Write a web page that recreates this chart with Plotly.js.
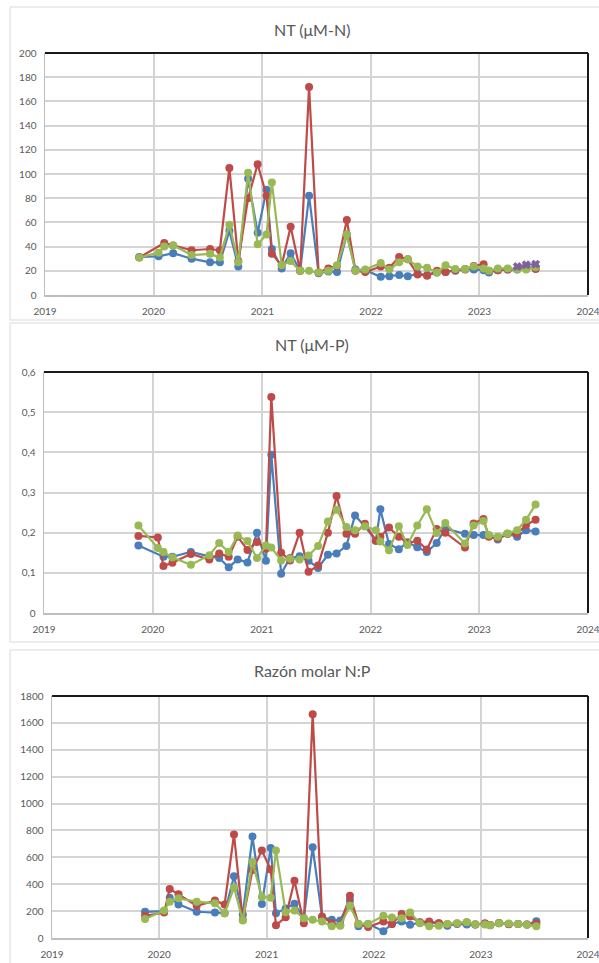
<!DOCTYPE html>
<html>
<head>
<meta charset="utf-8">
<script src="https://cdn.plot.ly/plotly-3.0.1.min.js"></script>
<style>
html,body{margin:0;padding:0;background:#fff;}
#chart{width:599px;height:963px;}
</style>
</head>
<body>
<div id="chart"></div>
<script>
// ---- sampling dates (shared by all panels) ----
const dates = [
 '2019-11-14','2020-01-18','2020-02-06','2020-03-07','2020-05-08','2020-07-09','2020-08-11',
 '2020-09-12','2020-10-12','2020-11-14','2020-12-16','2021-01-15','2021-02-02','2021-03-07',
 '2021-04-06','2021-05-08','2021-06-07','2021-07-09','2021-08-11','2021-09-09','2021-10-12',
 '2021-11-10','2021-12-13','2022-01-19','2022-02-03','2022-03-04','2022-04-06','2022-05-05',
 '2022-06-07','2022-07-09','2022-08-11','2022-09-09','2022-10-12','2022-11-14','2022-12-13',
 '2023-01-15','2023-02-02','2023-03-04','2023-04-06','2023-05-08','2023-06-07','2023-07-09'
];

// ---- Panel 1: NT (µM-N) ----
const ntN_blue  = [31.5,32,null,34.5,30,27,27,53,23.5,96,51.5,87,38,22,34.5,20,82,18,19.5,19,50,21,20.5,null,15,15.5,16.5,15.5,17.5,16.5,18.5,19,20,21.5,21,20.5,18.5,20.5,21,21,22,23];
const ntN_red   = [31,null,43,41,37,38,37,105,28,80,108,82,34,24.5,56.5,20,172,18.5,22,24,62,20,19,null,23.5,22.5,31.5,29.5,17,16,20,19,20.5,21,24,25.5,20,20.5,21,21.5,23,21.5];
const ntN_green = [31,35,40,41,33,34,31,58,27,101,42,50,93,24.5,28,20,20,18.5,20,24.5,50,20,21,null,26.5,21,27,29.5,23.5,22.5,18.5,24.5,21.5,21.5,23.5,22,20,22,22,21,21,23];
const ntN_purple= [null,null,null,null,null,null,null,null,null,null,null,null,null,null,null,null,null,null,null,null,null,null,null,null,null,null,null,null,null,null,null,null,null,null,null,null,null,null,null,23.5,25,25.5];

// ---- Panel 2: NT (µM-P) ----
const ntP_blue  = [0.168,null,0.14,0.14,0.152,0.141,0.137,0.114,0.133,0.126,0.2,0.13,0.394,0.098,0.137,0.141,0.13,0.112,0.145,0.148,0.167,0.243,0.216,0.18,0.258,0.172,0.159,0.176,0.164,0.152,0.174,0.21,null,0.197,0.194,0.194,0.193,0.183,0.197,0.19,0.206,0.203];
const ntP_red   = [0.192,0.188,0.117,0.125,0.147,0.133,0.148,0.14,0.19,0.157,0.177,0.16,0.538,0.15,0.131,0.2,0.103,0.118,0.2,0.291,0.197,0.197,0.222,0.18,0.19,0.213,0.19,0.174,0.18,0.158,0.209,0.2,null,0.163,0.223,0.234,0.19,0.186,0.197,0.197,0.219,0.232];
const ntP_green = [0.218,0.162,0.152,0.138,0.12,0.144,0.174,0.152,0.193,0.179,0.137,0.168,0.163,0.131,0.135,0.133,0.143,0.167,0.228,0.257,0.214,0.206,0.216,0.206,0.178,0.156,0.216,0.169,0.218,0.258,0.199,0.224,null,0.173,0.218,0.229,0.194,0.19,0.198,0.206,0.232,0.27];

// ---- Panel 3: Razón molar N:P ----
const np_blue  = [195,200,300,250,195,190,185,460,175,755,253,670,185,220,255,147,675,155,135,130,282,88,105,null,50,105,123,98,115,112,110,92,105,100,100,105,97,110,105,105,100,125];
const np_red   = [165,190,365,325,240,278,250,770,135,505,650,510,95,155,425,110,1665,160,110,95,315,105,82,null,123,105,178,160,118,123,110,103,108,118,100,110,95,112,103,105,100,108];
const np_green = [142,205,270,295,270,258,185,375,130,565,305,300,650,192,205,147,135,123,88,92,240,105,105,null,165,152,147,190,110,88,92,105,110,118,103,100,95,110,107,105,98,88];

// ---- labels ----
const titles = ['NT (μM-N)', 'NT (μM-P)', 'Razón molar N:P'];
const yearTicks = ['2019-01-01','2020-01-01','2021-01-01','2022-01-01','2023-01-01','2024-01-01'];
const yearLabels = ['2019','2020','2021','2022','2023','2024'];

const colors = {blue:'#4A7EBB', red:'#BE4B48', green:'#98B954', purple:'#7D60A0'};
const W = 599, H = 963;

function series(y, color, xa, ya, symbol){
  return {
    x: dates, y: y, xaxis: xa, yaxis: ya, type: 'scatter', mode: 'lines+markers',
    connectgaps: true, showlegend: false, hoverinfo: 'skip',
    line: {color: color, width: 2.2},
    marker: {color: color, size: symbol === 'x' ? 7 : 8, symbol: symbol || 'circle',
             line: {color: color, width: symbol === 'x' ? 1 : 0}}
  };
}

const data = [
  series(ntN_blue, colors.blue, 'x', 'y'),
  series(ntN_red, colors.red, 'x', 'y'),
  series(ntN_green, colors.green, 'x', 'y'),
  series(ntN_purple, colors.purple, 'x', 'y', 'x'),
  series(ntP_blue, colors.blue, 'x2', 'y2'),
  series(ntP_red, colors.red, 'x2', 'y2'),
  series(ntP_green, colors.green, 'x2', 'y2'),
  series(np_blue, colors.blue, 'x3', 'y3'),
  series(np_red, colors.red, 'x3', 'y3'),
  series(np_green, colors.green, 'x3', 'y3')
];

// plot-area pixel boxes [left, right, top, bottom]
const boxes = [[45,588,53,295],[44,588,372,613],[52,588,696,938]];
const titleY = [29, 345, 670];
const panelY = [[7,320],[323,642],[650,990]];
const yRanges = [[0,200],[0,0.6],[0,1800]];
const yDticks = [20,0.1,200];

const tickFont = {family:'Lato, "Open Sans", sans-serif', size:10, color:'#595959'};
const layout = {
  width: W, height: H, margin:{l:0,r:0,t:0,b:0},
  paper_bgcolor:'#ffffff', plot_bgcolor:'#ffffff',
  separators: ',.',
  shapes: [], annotations: []
};

boxes.forEach((b,i)=>{
  const s = i === 0 ? '' : String(i+1);
  layout['xaxis'+s] = {
    domain:[b[0]/W, b[1]/W], anchor:'y'+s, type:'date',
    range:['2019-01-01','2024-01-01'],
    tickmode:'array', tickvals: yearTicks, ticktext: yearLabels,
    ticklabeloverflow:'allow',
    showgrid:true, gridcolor:'#d4d4d4', gridwidth:2,
    showline:true, linecolor:'#bfbfbf', linewidth:1.5,
    ticks:'outside', ticklen:6, tickcolor:'rgba(0,0,0,0)',
    tickfont: tickFont, zeroline:false, fixedrange:true
  };
  layout['yaxis'+s] = {
    domain:[1-b[3]/H, 1-b[2]/H], anchor:'x'+s,
    range: yRanges[i], dtick: yDticks[i], tick0:0,
    showgrid:true, gridcolor:'#d4d4d4', gridwidth:2,
    showline:true, linecolor:'#bfbfbf', linewidth:1.5,
    ticks:'outside', ticklen:5, tickcolor:'rgba(0,0,0,0)',
    tickfont: tickFont, zeroline:false, fixedrange:true
  };
  const xr = 'x'+s+' domain', yr = 'y'+s+' domain';
  // top and right border of plot area
  layout.shapes.push({type:'line', xref:xr, yref:yr, x0:0, x1:1, y0:1, y1:1, line:{color:'#1a1a1a', width:2}});
  layout.shapes.push({type:'line', xref:xr, yref:yr, x0:1, x1:1, y0:0, y1:1, line:{color:'#1a1a1a', width:2}});
  // panel frame
  layout.shapes.push({type:'rect', xref:'paper', yref:'paper', x0:10/W, x1:1.05,
    y0:1-panelY[i][1]/H, y1:1-panelY[i][0]/H, line:{color:'#d9d9d9', width:1}, fillcolor:'rgba(0,0,0,0)', layer:'below'});
  layout.annotations.push({text: titles[i], xref:'paper', yref:'paper', x:312/W, y:1-titleY[i]/H,
    xanchor:'center', yanchor:'middle', showarrow:false,
    font:{family:'Lato, "Open Sans", sans-serif', size:16, color:'#595959'}});
});

Plotly.newPlot('chart', data, layout, {staticPlot:true, displayModeBar:false});
</script>
</body>
</html>
